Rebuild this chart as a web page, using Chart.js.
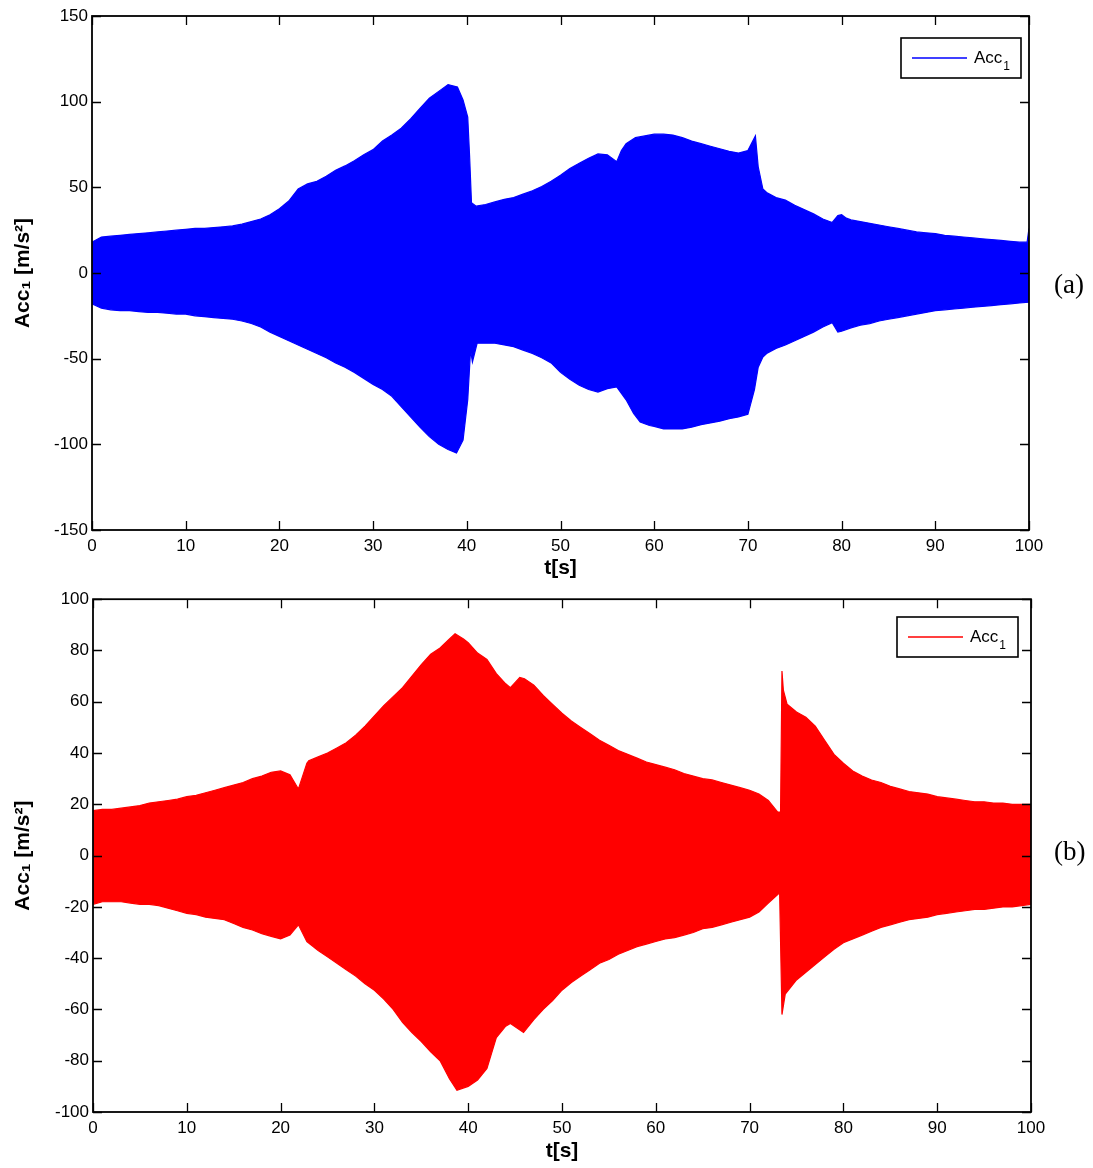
<!DOCTYPE html>
<html><head><meta charset="utf-8">
<script src="https://cdn.jsdelivr.net/npm/chart.js@4.4.1/dist/chart.umd.min.js"></script>
<style>
html,body{margin:0;padding:0;background:#fff;width:1093px;height:1168px;overflow:hidden;}
.wrap{position:absolute;left:0;width:1093px;}
.lab{position:absolute;font-family:"Liberation Serif","Times New Roman",serif;font-size:27px;color:#000;line-height:30px;}
</style></head><body>
<div class="wrap" style="top:0;height:585px"><canvas id="c1" width="1093" height="585"></canvas></div>
<div class="wrap" style="top:585px;height:583px"><canvas id="c2" width="1093" height="583"></canvas></div>
<div class="lab" style="left:1054px;top:269px">(a)</div>
<div class="lab" style="left:1054px;top:836px">(b)</div>
<script>
// ---------- Panel (a): envelope of Acc1 (blue) ----------
const timeUpperA = [0,1,2,3,4,5,6,7,8,9,10,11,12,13,14,15,16,17,18,19,20,21,22,23,24,25,26,27,28,29,30,31,32,33,34,35,36,37,38,39,39.6,40.1,40.3,40.5,41,42,43,44,45,46,47,48,49,50,51,52,53,54,55,56,56.5,57,58,59,60,61,62,63,64,65,66,67,68,69,70,70.8,71.1,71.6,72,73,74,75,76,77,78,79,79.6,80,80.5,81,82,83,84,85,86,87,88,89,90,91,92,93,94,95,96,97,98,99,99.8,100];
const upperA = [18,21,21.5,22,22.5,23,23.5,24,24.5,25,25.5,26,26,26.5,27,27.5,28.5,30,31.5,34,37.5,42,49,52,53.5,56.5,60,62.5,65.5,69,72,77,80.5,84.5,90,96,102,106,110,108.5,101,91,68,41,39,40,41.5,43,44,46,48,50.5,53.5,57,61,64,67,69.5,69,65,71.5,75.5,79,80,81,81,80.5,79,77,75.5,74,72.5,71,70,71.5,80,62,49,47,44,42.5,39.5,37,34.5,31.5,29.5,33.5,34,32,31,30,29,28,27,26,25,24,23.5,23,22,21.5,21,20.5,20,19.5,19,18.5,18,18,26];
const timeLowerA = [0,1,2,3,4,5,6,7,8,9,10,11,12,13,14,15,16,17,18,19,20,21,22,23,24,25,26,27,28,29,30,31,32,33,34,35,36,37,38,38.9,39.6,40.1,40.4,40.6,41.1,42,43,44,45,46,47,48,49,50,51,52,53,54,55,56,57,57.8,58.5,59.5,60,61,62,63,64,65,66,67,68,69,70,70.7,71.1,71.6,72,73,74,75,76,77,78,79,79.6,80,81,82,83,84,85,86,87,88,89,90,91,92,93,94,95,96,97,98,99,100];
const lowerA = [-18,-20.5,-21.5,-22,-22,-22.5,-23,-23,-23.5,-24,-24,-25,-25.5,-26,-26.5,-27,-28,-29.5,-31.5,-34.5,-37,-39.5,-42,-44.5,-47,-49.5,-52.5,-55,-58,-61.5,-65,-68,-72,-78,-84,-90,-95.5,-100,-103,-105,-97.5,-74,-45,-52,-41,-41,-41,-42,-43,-45,-47,-49.5,-52.5,-58,-62,-65.5,-68,-69.5,-67.5,-66.5,-74,-82,-87,-89,-89.5,-91,-91,-91,-90,-88.5,-87.5,-86.5,-85,-84,-82.5,-68,-55,-49,-47,-44,-42,-39.5,-37,-34.5,-31.5,-29,-34.5,-34,-32,-30.5,-29.5,-28,-27,-26,-25,-24,-23,-22,-21.5,-21,-20.5,-20,-19.5,-19,-18.5,-18,-17.5,-17];

// ---------- Panel (b): envelope of Acc1 (red) ----------
const timeUpperB = [0,1,2,3,4,5,6,7,8,9,10,11,12,13,14,15,16,17,18,19,20,21,21.9,22.8,23,24,25,26,27,28,29,30,31,32,33,34,35,36,37,38,38.6,39.5,40,41,42,43,44,44.5,45.5,46,47,48,49,50,51,52,53,54,55,56,57,58,59,60,61,62,63,64,65,66,67,68,69,70,71,72,73,73.3,73.45,73.6,74,75,76,77,78,79,80,81,82,83,84,85,86,87,88,89,90,91,92,93,94,95,96,97,98,99,100];
const upperB = [17.5,18,18,18.5,19,19.5,20.5,21,21.5,22,23,23.5,24.5,25.5,26.5,27.5,28.5,30,31,32.5,33,31.5,26,36,37,38.5,40,42,44,47,50.5,54.5,58.5,62,65.5,70,74.5,78.5,81,84.5,86.5,84.5,83,79,76.5,71,67,65.5,69.5,69,66.5,62.5,59,55.5,52.5,50,47.5,45,43,41,39.5,38,36.5,35.5,34.5,33.5,32,31,30,29.5,28.5,27.5,26.5,25.5,24,21.5,17,17,72,64.5,59,56,54,50.5,45,39.5,36,33,31,29.5,28.5,27,26,25,24.5,24,23,22.5,22,21.5,21,21,20.5,20.5,20,20,20];
const timeLowerB = [0,1,2,3,4,5,6,7,8,9,10,11,12,13,14,15,16,17,18,19,20,21,21.9,22.8,24,25,26,27,28,29,30,31,32,33,34,35,36,37,38,38.8,40,41,42,43,44,44.5,45.9,47,48,49,50,51,52,53,54,55,56,57,58,59,60,61,62,63,64,65,66,67,68,69,70,71,72,73.2,73.45,73.8,75,76,77,78,79,80,81,82,83,84,85,86,87,88,89,90,91,92,93,94,95,96,97,98,99,100];
const lowerB = [-19,-18,-18,-18,-18.5,-19,-19,-19.5,-20.5,-21.5,-22.5,-23,-24,-24.5,-25,-26.5,-28,-29,-30.5,-31.5,-32.5,-31,-27,-33.5,-37,-39.5,-42,-44.5,-47,-50,-52.5,-56,-60,-65,-69,-72.5,-76.5,-80,-87,-91.5,-90,-87.5,-83,-71,-66.5,-65.5,-69,-64,-60,-56.5,-52.5,-49.5,-47,-44.5,-42,-40.5,-38.5,-37,-35.5,-34.5,-33.5,-32.5,-32,-31,-30,-28.5,-28,-27,-26,-25,-24,-22,-18.5,-14.5,-62,-54,-48.5,-45.5,-42.5,-39.5,-36.5,-34,-32.5,-31,-29.5,-28,-27,-26,-25,-24.5,-24,-23,-22.5,-22,-21.5,-21,-21,-20.5,-20,-20,-19.5,-19];

// ---------- axis labels ----------
const xTitle = 't[s]';
const yTitle = 'Acc\u2081 [m/s\u00B2]';
const legendMain = 'Acc';
const legendSub = '1';

const FONT = '"Liberation Sans", Arial, Helvetica, sans-serif';

function pts(ts, vs){ return ts.map((t,i)=>({x:t,y:vs[i]})); }

function framePlugin(leg){
  return {
    id:'frame',
    afterDraw(chart){
      const ctx = chart.ctx, a = chart.chartArea;
      const xs = chart.scales.x, ys = chart.scales.y;
      ctx.save();
      ctx.strokeStyle = '#000';
      ctx.lineWidth = 1.8;
      ctx.strokeRect(a.left, a.top, a.right - a.left, a.bottom - a.top);
      ctx.lineWidth = 1.3;
      ctx.beginPath();
      const L = 9;
      xs.ticks.forEach(t=>{
        const p = Math.round(xs.getPixelForValue(t.value)) + 0.5;
        ctx.moveTo(p, a.bottom); ctx.lineTo(p, a.bottom - L);
        ctx.moveTo(p, a.top); ctx.lineTo(p, a.top + L);
      });
      ys.ticks.forEach(t=>{
        const p = Math.round(ys.getPixelForValue(t.value)) + 0.5;
        ctx.moveTo(a.left, p); ctx.lineTo(a.left + L, p);
        ctx.moveTo(a.right, p); ctx.lineTo(a.right - L, p);
      });
      ctx.stroke();
      // legend box
      ctx.fillStyle = '#fff';
      ctx.fillRect(leg.x, leg.y, leg.w, leg.h);
      ctx.lineWidth = 1.6;
      ctx.strokeStyle = '#000';
      ctx.strokeRect(leg.x, leg.y, leg.w, leg.h);
      ctx.strokeStyle = leg.color;
      ctx.lineWidth = 1.4;
      ctx.beginPath();
      ctx.moveTo(leg.x + 11, leg.y + leg.h/2);
      ctx.lineTo(leg.x + 66, leg.y + leg.h/2);
      ctx.stroke();
      ctx.fillStyle = '#000';
      ctx.textBaseline = 'alphabetic';
      ctx.textAlign = 'left';
      ctx.font = '17px ' + FONT;
      ctx.fillText(legendMain, leg.x + 73, leg.y + leg.h/2 + 5);
      const w = ctx.measureText(legendMain).width;
      ctx.font = '12px ' + FONT;
      ctx.fillText(legendSub, leg.x + 74 + w, leg.y + leg.h/2 + 12);
      ctx.restore();
    }
  };
}

function makeChart(id, cfg){
  const color = cfg.color;
  new Chart(document.getElementById(id), {
    type:'line',
    data:{ datasets:[
      { data: pts(cfg.tu, cfg.u), borderColor: color, backgroundColor: color, fill:{value:-6}, pointRadius:0, borderWidth:1.2, tension:0 },
      { data: pts(cfg.tl, cfg.l), borderColor: color, backgroundColor: color, fill:{value:6}, pointRadius:0, borderWidth:1.2, tension:0 }
    ]},
    options:{
      responsive:false, animation:false, events:[],
      layout:{ padding:{ top: cfg.padTop, right: cfg.padRight, left:0, bottom:0 } },
      plugins:{ legend:{display:false}, tooltip:{enabled:false} },
      scales:{
        x:{ type:'linear', min:0, max:100,
            ticks:{ stepSize:10, color:'#000', font:{family:FONT, size:17}, padding:6, maxRotation:0, autoSkip:false },
            grid:{ display:false, drawTicks:false }, border:{display:false},
            title:{ display:true, text:xTitle, color:'#000', font:{family:FONT, size:21, weight:'bold'}, padding:{top:0, bottom:4} },
            afterFit(s){ s.height = cfg.xH; } },
        y:{ type:'linear', min:cfg.ymin, max:cfg.ymax,
            ticks:{ stepSize:cfg.ystep, color:'#000', font:{family:FONT, size:17}, padding:4 },
            grid:{ display:false, drawTicks:false }, border:{display:false},
            title:{ display:true, text:yTitle, color:'#000', font:{family:FONT, size:21, weight:'bold'}, padding:{top:11, bottom:0} },
            afterFit(s){ s.width = cfg.yW; } }
      }
    },
    plugins:[ framePlugin(cfg.leg) ]
  });
}

makeChart('c1', { color:'#0000ff', tu:timeUpperA, u:upperA, tl:timeLowerA, l:lowerA,
  ymin:-150, ymax:150, ystep:50, padTop:16, padRight:64, xH:55, yW:92,
  leg:{x:901, y:38, w:120, h:40, color:'#0000ff'} });
makeChart('c2', { color:'#ff0000', tu:timeUpperB, u:upperB, tl:timeLowerB, l:lowerB,
  ymin:-100, ymax:100, ystep:20, padTop:14, padRight:62, xH:56, yW:93,
  leg:{x:897, y:32, w:121, h:40, color:'#ff0000'} });
</script>
</body></html>
